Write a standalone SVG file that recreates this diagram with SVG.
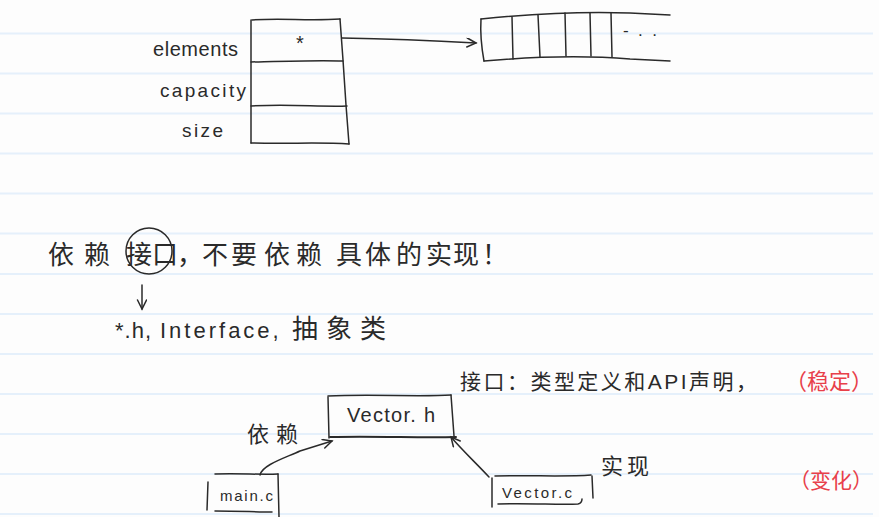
<svg xmlns="http://www.w3.org/2000/svg" width="879" height="517" viewBox="0 0 879 517">
<style>
.rule{stroke:#e5f0fb;stroke-width:2}
.ink{fill:none;stroke:#2a2a2a;stroke-width:1.5;stroke-linecap:round;stroke-linejoin:round}
.thick{stroke-width:2}
.lat{font-family:"Liberation Sans","DejaVu Sans",sans-serif;fill:#2a2a2a}
.cjk{font-family:"Liberation Sans","Noto Sans CJK SC",sans-serif;fill:#2a2a2a}
.red{fill:#e8404a}
</style>
<defs>
<marker id="arr" markerUnits="userSpaceOnUse" markerWidth="14" markerHeight="14" refX="10" refY="5" orient="auto">
<path d="M1 0.5 L10 5 L1 9.5" fill="none" stroke="#2a2a2a" stroke-width="1.5" stroke-linecap="round"/>
</marker>
</defs>
<rect width="879" height="517" fill="#fdfdfd"/>
<g id="ruled-lines">
<line class="rule" x1="0" y1="33.5" x2="873" y2="33.5"/>
<line class="rule" x1="0" y1="73.5" x2="873" y2="73.5"/>
<line class="rule" x1="0" y1="113.5" x2="873" y2="113.5"/>
<line class="rule" x1="0" y1="153.5" x2="873" y2="153.5"/>
<line class="rule" x1="0" y1="193.5" x2="873" y2="193.5"/>
<line class="rule" x1="0" y1="233.5" x2="873" y2="233.5"/>
<line class="rule" x1="0" y1="274" x2="873" y2="274"/>
<line class="rule" x1="0" y1="314" x2="873" y2="314"/>
<line class="rule" x1="0" y1="354" x2="873" y2="354"/>
<line class="rule" x1="0" y1="394" x2="873" y2="394"/>
<line class="rule" x1="0" y1="434" x2="873" y2="434"/>
<line class="rule" x1="0" y1="474" x2="873" y2="474"/>
<line class="rule" x1="0" y1="514" x2="873" y2="514"/>
</g>
<g id="struct">
<path class="ink" d="M252 20 C280 18 310 21 340 19"/>
<path class="ink" d="M251 20 L251 143"/>
<path class="ink" d="M340 19 L343 60 L346 105 L349 144"/>
<path class="ink" d="M251 62 C290 61 320 60 343 61"/>
<path class="ink" d="M251 106 C290 104 320 107 347 106"/>
<path class="ink" d="M251 143 C290 144 320 142 349 144"/>
<text class="lat" x="300" y="50" font-size="20" text-anchor="middle">*</text>
<text class="lat" x="153" y="56" font-size="20" textLength="85">elements</text>
<text class="lat" x="160" y="97" font-size="19" textLength="86">capacity</text>
<text class="lat" x="182" y="137" font-size="19" textLength="41">size</text>
</g>
<g id="array">
<path class="ink" d="M481 19 C480 35 482 50 484 61"/>
<path class="ink" d="M481 19 C530 14 580 11 630 13 L670 15"/>
<path class="ink" d="M484 61 C530 57 580 55 630 59 L670 61"/>
<path class="ink" d="M512 17 L513 59"/>
<path class="ink" d="M538 15 L540 57"/>
<path class="ink" d="M565 13 L566 56"/>
<path class="ink" d="M590 13 L591 56"/>
<path class="ink" d="M611 13 L612 57"/>
<text class="lat" x="623" y="36" font-size="17" textLength="34" lengthAdjust="spacing">- . .</text>
</g>
<g id="principle">
<text class="cjk" y="264" font-size="26" x="48 84 126 152 177 202 231 264 296 336 365 396 426 453 482">依赖接口，不要依赖具体的实现！</text>
<circle class="ink" cx="149" cy="251" r="23"/>
</g>
<g id="examples">
<text class="cjk" y="338" font-size="22"><tspan x="115" letter-spacing="1">*.h,</tspan><tspan x="160" letter-spacing="3">Interface,</tspan><tspan x="292" font-size="26" letter-spacing="8">抽象类</tspan></text>
</g>
<g id="annotation">
<text class="cjk" x="460" y="389" font-size="21" textLength="297" lengthAdjust="spacing">接口：类型定义和API声明，</text>
<text class="cjk red" x="785" y="389" font-size="22">（稳定）</text>
<text class="cjk red" x="789" y="488" font-size="21">（变化）</text>
</g>
<g id="vector_h">
<path class="ink" d="M328 396 C370 394 420 397 451 395"/>
<path class="ink" d="M328 397 L329 438"/>
<path class="ink" d="M451 395 L454 436"/>
<path class="ink thick" d="M330 437 C380 436 420 438 456 437"/>
<text class="lat" x="347" y="422" font-size="20" textLength="88" lengthAdjust="spacing">Vector. h</text>
</g>
<g id="main_c">
<path class="ink" d="M208 482 L207 510"/>
<path class="ink" d="M215 474 C240 473 260 475 278 474"/>
<path class="ink" d="M278 474 L279 517"/>
<path class="ink" d="M215 511 C240 511 255 512 272 512"/>
<text class="lat" x="220" y="501" font-size="15" textLength="53" lengthAdjust="spacing">main.c</text>
</g>
<g id="vector_c">
<path class="ink" d="M492 478 L492 507"/>
<path class="ink" d="M495 476 C530 475 565 477 591 475"/>
<path class="ink" d="M592 476 L593 498"/>
<path class="ink" d="M498 504 C530 503 560 505 578 504 Q582 503 582 499"/>
<text class="lat" x="502" y="498" font-size="15" textLength="70" lengthAdjust="spacing">Vector.c</text>
</g>
<g id="connectors">
<path class="ink" d="M342 38 C400 39 440 41 476 43" marker-end="url(#arr)"/>
<path class="ink" d="M142 285 L142 309" marker-end="url(#arr)"/>
<path class="ink" d="M260 475 C262 465 285 458 300 451 L332 441" marker-end="url(#arr)"/>
<path class="ink" d="M489 477 C475 462 462 450 451 437" marker-end="url(#arr)"/>
<text class="cjk" x="247" y="442" font-size="22" textLength="51" lengthAdjust="spacing">依赖</text>
<text class="cjk" x="601" y="474" font-size="22" textLength="48" lengthAdjust="spacing">实现</text>
</g>
</svg>
